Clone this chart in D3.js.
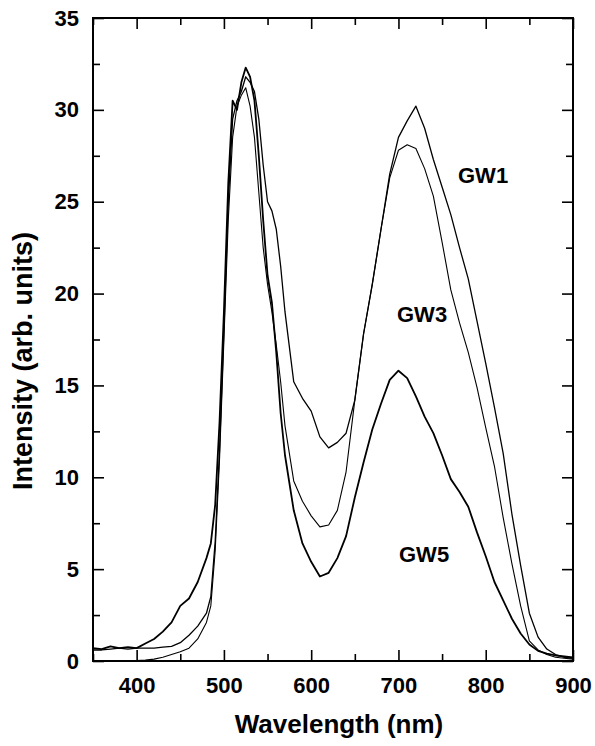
<!DOCTYPE html>
<html>
<head>
<meta charset="utf-8">
<script src="https://cdn.jsdelivr.net/npm/d3@7"></script>
<style>
  body { margin: 0; padding: 0; background: #fff; overflow: hidden; }
  text { font-family: "Liberation Sans", Arial, sans-serif; font-weight: bold; fill: #000; }
</style>
</head>
<body>
<script>
// wavelength grid (nm), finer around the steep first peak
const wavelengths = [350,360,370,380,390,400,410,420,430,440,450,460,470,480,
  485,490,495,500,505,510,515,520,525,530,535,540,545,550,555,560,565,570,
  580,590,600,610,620,630,640,650,660,670,680,690,700,710,720,730,740,750,
  760,770,780,790,800,810,820,830,840,850,860,870,880,890,900];

const gw1 = [0.6,0.6,0.65,0.7,0.65,0.7,0.7,0.7,0.75,0.8,1.0,1.4,1.9,2.6,
  3.5,6.5,11.5,18,25,29.5,30.5,31,31.8,31.5,31,29.5,27,25,24.5,23.5,21.5,19,
  15.2,14.3,13.6,12.2,11.6,11.9,12.4,14.2,17.8,20.5,23.5,26.5,28.5,29.4,30.2,29,27.3,25.8,
  24.3,22.5,20.8,18.5,16.2,13.8,11.3,8.0,5.2,2.6,1.3,0.65,0.35,0.2,0.15];

const gw3 = [0,0,0,0,0,0.02,0.05,0.1,0.2,0.35,0.5,0.7,1.2,2.1,
  3.0,6.0,11,17.5,24,28.5,30.2,30.8,31.2,30.2,28.5,25.5,22.5,20.5,19,17.2,15.2,12.8,
  9.8,8.7,7.9,7.3,7.4,8.2,10.3,14.2,17.8,20.5,23.5,26.3,27.8,28.1,27.9,26.8,25.3,22.8,
  20.2,18.4,16.8,14.9,12.7,10.6,7.8,5.3,3.0,1.1,0.6,0.35,0.2,0.15,0.1];

const gw5 = [0.7,0.65,0.8,0.7,0.75,0.7,0.95,1.2,1.6,2.1,3.0,3.4,4.3,5.6,
  6.4,8.5,13,19,26,30.5,30,31.5,32.3,31.8,30.5,27.5,24,21,19.5,16.8,13.5,11.2,
  8.2,6.4,5.4,4.6,4.8,5.6,6.8,8.9,10.8,12.6,14,15.3,15.8,15.4,14.4,13.3,12.4,11.2,
  9.9,9.2,8.4,7.0,5.7,4.3,3.3,2.3,1.5,0.9,0.55,0.4,0.3,0.25,0.2];

const seriesNames = ["GW1","GW3","GW5"];
const xMajor = [400,500,600,700,800,900];
const xMinor = [350,450,550,650,750,850];
const yMajor = [0,5,10,15,20,25,30,35];
const yMinor = [2.5,7.5,12.5,17.5,22.5,27.5,32.5];

const width = 595, height = 746;
const plotLeft = 93, plotRight = 573, plotTop = 18, plotBottom = 661;

const svg = d3.select("body").append("svg")
  .attr("width", width).attr("height", height);

const x = d3.scaleLinear().domain([350,900]).range([plotLeft,plotRight]);
const y = d3.scaleLinear().domain([0,35]).range([plotBottom,plotTop]);

// curves
const line = d3.line().x(d => x(d[0])).y(d => y(d[1]));
const series = [gw1, gw3, gw5];
const widths = [1.3, 1.1, 1.8];
series.forEach((vals, i) => {
  svg.append("path")
    .datum(wavelengths.map((w, j) => [w, vals[j]]))
    .attr("d", line)
    .attr("fill", "none")
    .attr("stroke", "#000")
    .attr("stroke-width", widths[i])
    .attr("stroke-linejoin", "round");
});

// axes, ticks inward on all four sides
function styleAxis(g) {
  g.select(".domain").remove();
  g.selectAll(".tick line").attr("stroke", "#000").attr("stroke-width", 1.6);
  g.selectAll("text").style("font-size", "22px");
}

svg.append("g").attr("transform", `translate(0,${plotBottom})`)
  .call(d3.axisBottom(x).tickValues(xMajor).tickSize(-11).tickPadding(16).tickFormat(d3.format("d")))
  .call(styleAxis);
svg.append("g").attr("transform", `translate(0,${plotBottom})`)
  .call(d3.axisBottom(x).tickValues(xMinor).tickSize(-7).tickFormat(""))
  .call(styleAxis);
svg.append("g").attr("transform", `translate(0,${plotTop})`)
  .call(d3.axisTop(x).tickValues(xMajor).tickSize(-11).tickFormat(""))
  .call(styleAxis);
svg.append("g").attr("transform", `translate(0,${plotTop})`)
  .call(d3.axisTop(x).tickValues(xMinor).tickSize(-7).tickFormat(""))
  .call(styleAxis);

svg.append("g").attr("transform", `translate(${plotLeft},0)`)
  .call(d3.axisLeft(y).tickValues(yMajor).tickSize(-11).tickPadding(14).tickFormat(d3.format("d")))
  .call(styleAxis);
svg.append("g").attr("transform", `translate(${plotLeft},0)`)
  .call(d3.axisLeft(y).tickValues(yMinor).tickSize(-7).tickFormat(""))
  .call(styleAxis);
svg.append("g").attr("transform", `translate(${plotRight},0)`)
  .call(d3.axisRight(y).tickValues(yMajor).tickSize(-11).tickFormat(""))
  .call(styleAxis);
svg.append("g").attr("transform", `translate(${plotRight},0)`)
  .call(d3.axisRight(y).tickValues(yMinor).tickSize(-7).tickFormat(""))
  .call(styleAxis);

svg.append("rect")
  .attr("x", plotLeft).attr("y", plotTop)
  .attr("width", plotRight - plotLeft).attr("height", plotBottom - plotTop)
  .attr("fill", "none").attr("stroke", "#000").attr("stroke-width", 2);

// series labels
const labelPos = [[458,183],[397,322],[399,562]];
seriesNames.forEach((name, i) => {
  svg.append("text")
    .attr("x", labelPos[i][0]).attr("y", labelPos[i][1])
    .style("font-size", "22px")
    .text(name);
});

// axis titles
svg.append("text")
  .attr("x", 339).attr("y", 733)
  .attr("text-anchor", "middle")
  .style("font-size", "26px")
  .text("Wavelength (nm)");

svg.append("text")
  .attr("transform", "translate(32,361) rotate(-90)")
  .attr("text-anchor", "middle")
  .style("font-size", "27px")
  .text("Intensity (arb. units)");
</script>
</body>
</html>
